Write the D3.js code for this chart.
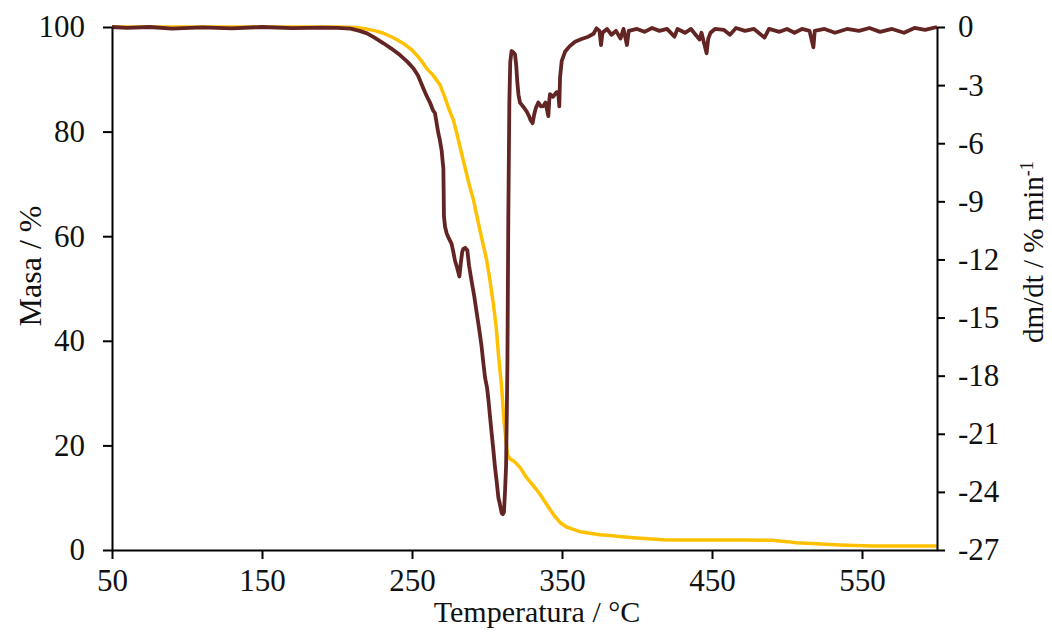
<!DOCTYPE html>
<html>
<head>
<meta charset="utf-8">
<script src="https://cdn.jsdelivr.net/npm/d3@7/dist/d3.min.js"></script>
<style>
  html, body { margin: 0; padding: 0; background: #fff; }
  svg text { font-family: "Liberation Serif", "Times New Roman", serif; fill: #111; }
</style>
</head>
<body>
<svg id="chart" width="1052" height="632"></svg>
<script>
// ---- Data ----
const xTicks = [50, 150, 250, 350, 450, 550];
const massTicks = [0, 20, 40, 60, 80, 100];
const dmdtTicks = [0, -3, -6, -9, -12, -15, -18, -21, -24, -27];

// Mass (%) vs temperature (°C)
const massT = [50, 100, 150, 200, 213, 220, 225, 231, 238, 244, 250, 255, 260, 264, 268.7, 272, 275, 277.6, 280, 284.2, 288, 291, 295.3, 299.8, 302, 304.2, 306, 307.6, 309.8, 311.3, 312.2, 313, 313.6, 315.3, 318, 322, 326, 330, 335, 340, 345, 349, 353, 358, 362, 368.7, 375, 380, 390, 400, 417.5, 430, 450, 470, 490, 500, 506, 520, 535, 545, 557, 575, 600];
const massV = [100, 100, 100, 100, 99.9, 99.6, 99.3, 98.8, 97.9, 96.9, 95.6, 94, 92, 90.8, 88.9, 86.5, 84, 82.2, 79.5, 74.5, 70, 66.9, 61.1, 55.4, 51.5, 47.1, 43, 37.5, 31, 24.7, 22.2, 20, 18.3, 17.4, 17.0, 15.8, 14.0, 12.6, 10.8, 8.6, 6.5, 5.2, 4.4, 3.9, 3.5, 3.2, 2.9, 2.8, 2.55, 2.3, 1.95, 1.9, 1.9, 1.9, 1.85, 1.6, 1.4, 1.2, 0.96, 0.85, 0.77, 0.77, 0.77];

// dm/dt (% min^-1) vs temperature (°C)
const dtgT = [50, 60, 75, 90, 110, 130, 150, 170, 190, 200, 209, 215, 220, 225, 231, 236, 242, 247, 251, 254, 257.6, 260, 262, 264, 265.3, 266.5, 267.6, 268.5, 269.8, 270.5, 270.9, 271.1, 271.3, 272, 273.1, 274.5, 276.4, 277.5, 278.7, 280, 281.6, 282.5, 283.5, 284.2, 285.5, 286.9, 288, 289.8, 291.5, 293.1, 294.8, 296.4, 297.5, 298.7, 300, 300.9, 302, 303.1, 304.2, 305.3, 306.5, 307.6, 308.5, 309.8, 310.5, 311.3, 312, 312.7, 313.2, 313.6, 314.2, 314.9, 315.5, 316.4, 317.5, 318.7, 319.5, 320.2, 321, 322, 324, 326.4, 328, 329, 330.4, 331.5, 332.5, 334.2, 336, 337.6, 339, 340.9, 341.5, 342, 344, 346.4, 347.5, 348.2, 348.7, 349.8, 352, 355, 358.7, 363, 367.5, 371, 373, 375, 376, 377, 380, 383, 386, 389, 391, 393.3, 394.5, 400, 405, 410, 415, 420, 425, 427, 432, 436, 441.7, 443, 446.4, 447.5, 449, 452, 458, 462, 466, 472, 478, 485, 488, 495, 500, 505, 510, 515, 517.6, 518.5, 525, 532, 540, 548, 555, 562, 570, 578, 585, 592, 600];
const dtgV = [0, -0.05, 0, -0.08, -0.02, -0.07, 0, -0.06, -0.03, -0.05, -0.08, -0.2, -0.33, -0.55, -0.84, -1.1, -1.45, -1.8, -2.14, -2.5, -3.17, -3.6, -3.9, -4.3, -4.44, -5.0, -5.5, -5.8, -6.4, -7.0, -7.28, -8.5, -9.77, -10.3, -10.65, -10.9, -11.2, -11.6, -12.08, -12.4, -12.88, -12.2, -11.6, -11.46, -11.4, -11.54, -12.3, -13.15, -13.9, -14.74, -15.6, -16.5, -17.3, -18.1, -18.6, -19.2, -20.1, -20.97, -21.8, -22.7, -23.5, -24.3, -24.6, -25.1, -25.15, -25.05, -24, -22.7, -20, -17.4, -9.95, -3.9, -1.8, -1.24, -1.3, -1.42, -2.0, -2.84, -3.5, -3.9, -4.1, -4.35, -4.6, -4.8, -4.97, -4.5, -4.2, -3.9, -4.1, -4.08, -3.9, -4.6, -3.8, -3.47, -3.6, -3.36, -3.4, -4.1, -2.6, -1.76, -1.28, -1.0, -0.76, -0.62, -0.5, -0.35, -0.07, -0.2, -0.93, -0.3, -0.1, -0.4, -0.2, -0.6, -0.1, -0.93, -0.2, -0.1, -0.25, -0.05, -0.2, -0.1, -0.5, -0.1, -0.3, -0.1, -0.65, -0.3, -1.36, -0.6, -0.3, -0.1, -0.15, -0.4, -0.05, -0.2, -0.1, -0.55, -0.1, -0.25, -0.1, -0.3, -0.1, -0.2, -1.05, -0.2, -0.1, -0.3, -0.1, -0.2, -0.05, -0.25, -0.1, -0.3, -0.05, -0.15, 0];

// ---- Layout ----
const svg = d3.select("#chart");
const mLeft = 112, mRight = 937, mTop = 27, mBottom = 550;

const x = d3.scaleLinear().domain([50, 600]).range([mLeft, mRight]);
const yMass = d3.scaleLinear().domain([0, 100]).range([mBottom, mTop]);
const yDtg = d3.scaleLinear().domain([-27, 0]).range([mBottom, mTop]);

const massData = massT.map((t, i) => [t, massV[i]]);
const dtgData = dtgT.map((t, i) => [t, dtgV[i]]);

// Lines
svg.append("path")
  .datum(massData)
  .attr("fill", "none")
  .attr("stroke", "#FFC000")
  .attr("stroke-width", 3.5)
  .attr("stroke-linejoin", "round")
  .attr("d", d3.line().x(d => x(d[0])).y(d => yMass(d[1])));

svg.append("path")
  .datum(dtgData)
  .attr("fill", "none")
  .attr("stroke", "#632523")
  .attr("stroke-width", 3.8)
  .attr("stroke-linejoin", "round")
  .attr("d", d3.line().x(d => x(d[0])).y(d => yDtg(d[1])));

// Axes
const fs = "31px";
function styleAxis(g) {
  g.selectAll(".domain").attr("stroke", "#000").attr("stroke-width", 2);
  g.selectAll(".tick line").attr("stroke", "#000").attr("stroke-width", 2);
  g.selectAll(".tick text").style("font-size", fs).attr("fill", "#111");
}

const gx = svg.append("g").attr("transform", `translate(0,${mBottom})`)
  .call(d3.axisBottom(x).tickValues(xTicks).tickSize(9).tickSizeOuter(0).tickPadding(10).tickFormat(d3.format("d")));
styleAxis(gx);

const gl = svg.append("g").attr("transform", `translate(${mLeft},0)`)
  .call(d3.axisLeft(yMass).tickValues(massTicks).tickSize(9).tickSizeOuter(0).tickPadding(18).tickFormat(d3.format("d")));
styleAxis(gl);

const gr = svg.append("g").attr("transform", `translate(${mRight},0)`)
  .call(d3.axisRight(yDtg).tickValues(dmdtTicks).tickSize(8).tickSizeOuter(0).tickPadding(13).tickFormat(d => d3.format("d")(d).replace("−", "-")));
styleAxis(gr);

// Titles
svg.append("text")
  .attr("x", 537).attr("y", 622)
  .attr("text-anchor", "middle")
  .style("font-size", "30px")
  .text("Temperatura / °C");

svg.append("text")
  .attr("transform", "translate(41,266) rotate(-90)")
  .attr("text-anchor", "middle")
  .style("font-size", "32px")
  .text("Masa / %");

const rt = svg.append("text")
  .attr("transform", "translate(1043,252) rotate(-90)")
  .attr("text-anchor", "middle")
  .style("font-size", "29px");
rt.append("tspan").text("dm/dt / % min");
rt.append("tspan").attr("dy", "-10").style("font-size", "18px").text("-1");
</script>
</body>
</html>
